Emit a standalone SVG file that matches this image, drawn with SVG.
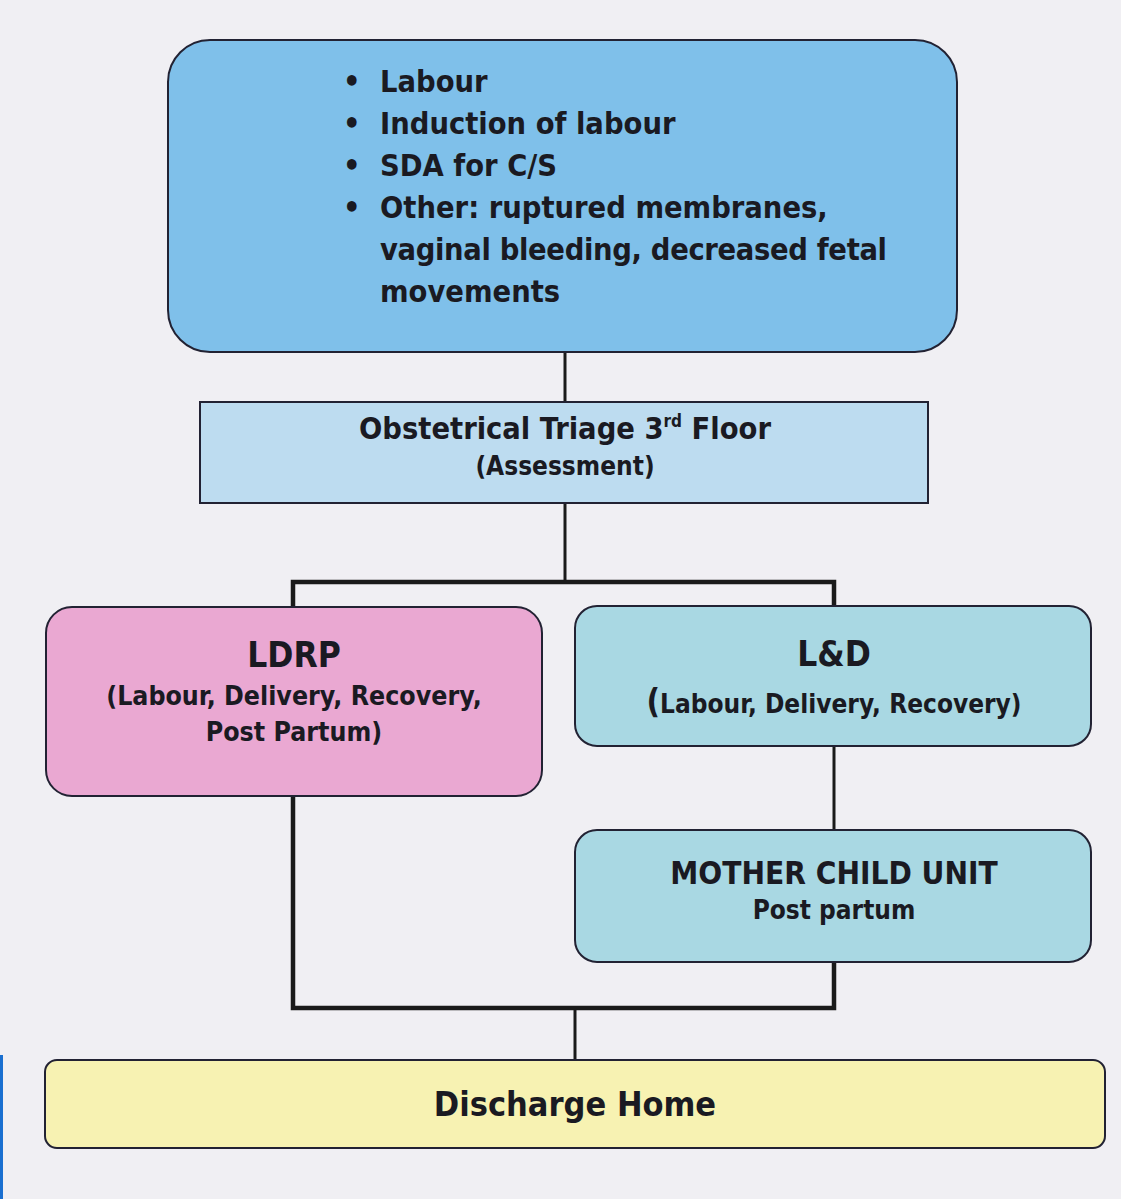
<svg xmlns="http://www.w3.org/2000/svg" width="1121" height="1199" viewBox="0 0 1121 1199">
<style>
.box{stroke:#222233;stroke-width:2}
.t{font-family:"DejaVu Sans Condensed","DejaVu Sans",Verdana,sans-serif;font-weight:bold;fill:#1a1a22}
.c{text-anchor:middle}
.ln{stroke:#1a1a1a;fill:none;stroke-width:3}
.th{stroke:#1a1a1a;fill:none;stroke-width:4.5}
</style>
<rect x="0" y="0" width="1121" height="1199" fill="#f0eff3"/>
<rect x="0" y="1055" width="3" height="144" fill="#1a6fd0"/>
<g id="connectors">
<line class="ln" x1="565" y1="352" x2="565" y2="402"/>
<line class="ln" x1="565" y1="503" x2="565" y2="582"/>
<polyline class="th" points="293,607 293,582 834,582 834,607"/>
<line class="ln" x1="834" y1="746" x2="834" y2="830"/>
<polyline class="th" points="293,796 293,1008 834,1008 834,962"/>
<line class="ln" x1="575" y1="1008" x2="575" y2="1060"/>
</g>
<g id="reasons">
<rect class="box" x="168" y="40" width="789" height="312" rx="42" fill="#7fc0ea"/>
<g class="t" font-size="30.5">
<text x="343" y="92">•</text><text x="380" y="92">Labour</text>
<text x="343" y="134">•</text><text x="380" y="134">Induction of labour</text>
<text x="343" y="176">•</text><text x="380" y="176">SDA for C/S</text>
<text x="343" y="218">•</text><text x="380" y="218">Other: ruptured membranes,</text>
<text x="380" y="260" textLength="507">vaginal bleeding, decreased fetal</text>
<text x="380" y="302">movements</text>
</g>
</g>
<g id="triage">
<rect class="box" x="200" y="402" width="728" height="101" fill="#bddcf0"/>
<text class="t c" x="565" y="439" font-size="30.5">Obstetrical Triage 3<tspan font-size="17" dy="-12">rd</tspan><tspan dy="12"> Floor</tspan></text>
<text class="t c" x="565" y="475" font-size="26">(Assessment)</text>
</g>
<g id="ldrp">
<rect class="box" x="46" y="607" width="496" height="189" rx="26" fill="#eaa8d2"/>
<text class="t c" x="294" y="667" font-size="35">LDRP</text>
<text class="t c" x="294" y="705" font-size="26.5">(Labour, Delivery, Recovery,</text>
<text class="t c" x="294" y="741" font-size="26.5">Post Partum)</text>
</g>
<g id="ld">
<rect class="box" x="575" y="606" width="516" height="140" rx="22" fill="#a9d8e3"/>
<text class="t c" x="834" y="666" font-size="35">L&amp;D</text>
<text class="t c" x="834" y="713" font-size="26"><tspan font-size="33">(</tspan>Labour, Delivery, Recovery)</text>
</g>
<g id="mcu">
<rect class="box" x="575" y="830" width="516" height="132" rx="22" fill="#a9d8e3"/>
<text class="t c" x="834" y="884" font-size="31.3">MOTHER CHILD UNIT</text>
<text class="t c" x="834" y="919" font-size="26">Post partum</text>
</g>
<g id="discharge">
<rect class="box" x="45" y="1060" width="1060" height="88" rx="12" fill="#f7f2b2"/>
<text class="t c" x="575" y="1116" font-size="34">Discharge Home</text>
</g>
</svg>
